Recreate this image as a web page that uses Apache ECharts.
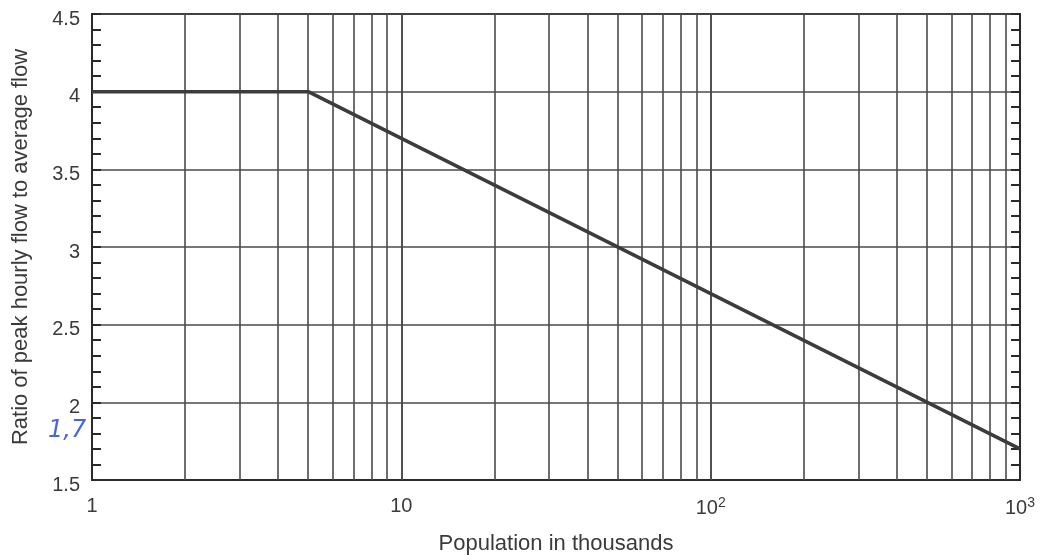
<!DOCTYPE html>
<html>
<head>
<meta charset="utf-8">
<script src="https://cdn.jsdelivr.net/npm/echarts@6/dist/echarts.min.js"></script>
<style>html,body{margin:0;padding:0;background:#fff;}#c{width:1046px;height:560px;}</style>
</head>
<body>
<div id="c"></div>
<script>
// Data
var linePoints = [[1, 4], [5, 4], [1000, 1.7]];
var xGridValues = [2,3,4,5,6,7,8,9,10,20,30,40,50,60,70,80,90,100,200,300,400,500,600,700,800,900];
var yTickLabels = ['1.5','2','2.5','3','3.5','4','4.5'];
var xTickLabels = {1: '1', 10: '10', 100: '10{s|2}', 1000: '10{s|3}'};
var annotationText = '1,7';

var chart = echarts.init(document.getElementById('c'));
var textColor = '#3a3a3a';
var gridColor = '#4a4a4a';
var option = {
  backgroundColor: '#fff',
  animation: false,
  grid: {left: 92, right: 26, top: 14, bottom: 79, show: true, borderColor: '#2a2a2a', borderWidth: 2},
  xAxis: {
    type: 'log', logBase: 10, min: 1, max: 1000,
    name: 'Population in thousands', nameLocation: 'middle', nameGap: 53,
    nameTextStyle: {fontFamily: 'Liberation Sans', fontSize: 22, color: textColor},
    axisLine: {show: true, lineStyle: {color: '#2a2a2a', width: 2}},
    axisTick: {show: false},
    splitLine: {show: true, lineStyle: {color: gridColor, width: 1.6}},
    axisLabel: {
      margin: 16, fontFamily: 'Liberation Sans', fontSize: 20, color: textColor,
      formatter: function (v) { var k = Math.round(v); return xTickLabels[k] || ''; },
      rich: {s: {fontSize: 14, verticalAlign: 'top', padding: [0,0,10,0], fontFamily: 'Liberation Sans', color: textColor}}
    }
  },
  yAxis: [{
    type: 'value', min: 1.5, max: 4.5, interval: 0.5,
    name: 'Ratio of peak hourly flow to average flow', nameLocation: 'middle', nameGap: 60, nameRotate: 90,
    nameTextStyle: {fontFamily: 'Liberation Sans', fontSize: 22, color: textColor},
    axisLine: {show: true, lineStyle: {color: '#2a2a2a', width: 2}},
    axisTick: {show: true, inside: true, length: 9, lineStyle: {color: '#2a2a2a', width: 2}},
    minorTick: {show: true, splitNumber: 5, length: 9, lineStyle: {color: '#2a2a2a', width: 2}},
    splitLine: {show: true, lineStyle: {color: gridColor, width: 1.6}},
    axisLabel: {
      margin: 12, fontFamily: 'Liberation Sans', fontSize: 20, color: textColor,
      verticalAlign: 'top', lineHeight: 10,
      formatter: function (v) { var i = Math.round((v - 1.5) / 0.5); return yTickLabels[i] || ''; }
    }
  }, {
    type: 'value', min: 1.5, max: 4.5, interval: 0.5, position: 'right',
    axisLine: {show: true, lineStyle: {color: '#2a2a2a', width: 2}},
    axisTick: {show: true, inside: true, length: 9, lineStyle: {color: '#2a2a2a', width: 2}},
    minorTick: {show: true, splitNumber: 5, length: 9, lineStyle: {color: '#2a2a2a', width: 2}},
    splitLine: {show: false},
    axisLabel: {show: false}
  }],
  series: [{
    type: 'line', data: linePoints, symbol: 'none',
    lineStyle: {color: '#3c3c3c', width: 3.5},
    markLine: {
      silent: true, symbol: 'none', label: {show: false},
      lineStyle: {color: gridColor, width: 1.6, type: 'solid'},
      data: xGridValues.map(function (x) { return {xAxis: x}; })
    },
    z: 5
  }],
  graphic: [{
    type: 'text', left: 48, top: 419,
    style: {text: annotationText, fill: '#4668d4', font: 'italic 24px "DejaVu Sans"'}
  }]
};
chart.setOption(option);
</script>
</body>
</html>
